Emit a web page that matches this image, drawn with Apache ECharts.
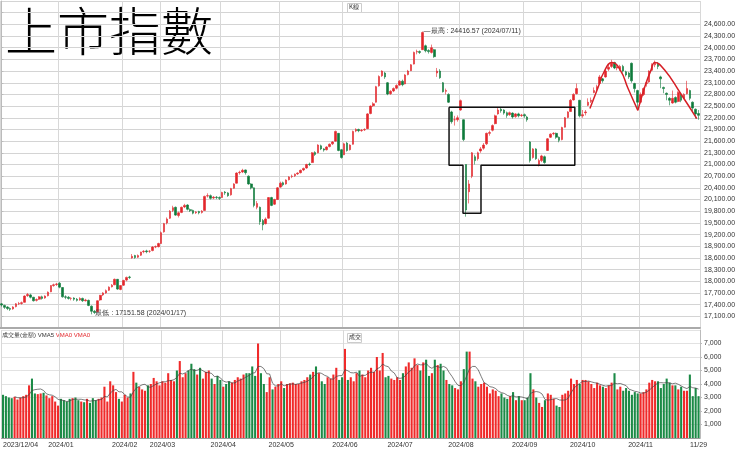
<!DOCTYPE html>
<html>
<head>
<meta charset="utf-8">
<script src="https://cdn.jsdelivr.net/npm/echarts@6/dist/echarts.min.js"></script>
<style>
html, body { margin: 0; padding: 0; background: #fff; }
#chart { width: 740px; height: 452px; }
</style>
</head>
<body>
<div id="chart"></div>
<script>
// 月份標籤與每月交易日數
var monthLabels = ['2023/12/04', '2024/01', '2024/02', '2024/03', '2024/04', '2024/05', '2024/06', '2024/07', '2024/08', '2024/09', '2024/10', '2024/11'];
var monthDays = [20, 22, 13, 21, 20, 22, 19, 21, 22, 20, 20, 21];
var lastLabel = '11/29';

// K線 [開, 收, 低, 高]
var candles = [
  // 2023/12
  [17420,17390,17350,17440],[17380,17330,17290,17400],[17340,17300,17260,17360],[17300,17280,17240,17330],[17290,17340,17270,17360],
  [17350,17420,17330,17440],[17420,17430,17390,17470],[17430,17450,17400,17480],[17460,17620,17450,17640],[17630,17660,17600,17700],
  [17650,17590,17560,17680],[17590,17500,17480,17600],[17510,17530,17480,17560],[17540,17600,17520,17620],[17600,17560,17530,17630],
  [17570,17620,17550,17640],[17630,17720,17610,17740],[17730,17890,17720,17900],[17890,17910,17860,17940],[17920,17930,17880,17960],
  // 2024/01
  [17950,17850,17820,17980],[17840,17600,17580,17850],[17600,17590,17540,17640],[17590,17560,17530,17620],[17560,17560,17510,17590],
  [17570,17540,17500,17590],[17540,17510,17480,17570],[17520,17560,17500,17590],[17560,17500,17470,17580],[17500,17520,17480,17550],
  [17510,17380,17360,17530],[17360,17230,17151.58,17380],[17230,17200,17160,17260],[17220,17500,17210,17510],[17520,17640,17500,17650],
  [17650,17700,17620,17720],[17700,17760,17680,17790],[17770,17850,17750,17870],[17860,17900,17840,17930],[17910,18050,17900,18070],
  [18050,17800,17780,18060],[17790,17890,17770,17900],
  // 2024/02
  [17900,18020,17880,18040],[18030,18100,18000,18120],[18110,18100,18060,18140],[18600,18640,18580,18700],[18660,18610,18580,18680],
  [18620,18660,18600,18690],[18670,18750,18650,18760],[18760,18770,18720,18800],[18780,18760,18720,18810],[18770,18770,18730,18800],
  [18790,18880,18770,18900],[18880,18890,18850,18920],[18890,18970,18870,18990],
  // 2024/03
  [18970,19250,18960,19280],[19270,19480,19250,19500],[19500,19600,19460,19640],[19620,19800,19600,19830],[19820,19890,19780,19940],
  [19900,19700,19680,19920],[19690,19760,19640,19790],[19770,19900,19750,19920],[19910,19950,19880,19990],[19960,19850,19820,19980],
  [19840,19820,19780,19870],[19820,19750,19720,19840],[19760,19780,19730,19800],[19790,19760,19720,19810],[19770,19800,19740,19830],
  [19820,20180,19810,20200],[20190,20200,20150,20260],[20200,20130,20100,20230],[20140,20160,20110,20190],[20160,20150,20110,20190],
  [20150,20130,20090,20180],
  // 2024/04
  [20150,20280,20140,20300],[20290,20270,20220,20320],[20270,20200,20170,20290],[20220,20380,20200,20400],[20390,20500,20380,20520],
  [20520,20780,20510,20800],[20790,20800,20740,20840],[20810,20850,20780,20890],[20860,20790,20740,20870],[20700,20500,20480,20720],
  [20500,20400,20360,20520],[20400,19950,19900,20410],[19900,20000,19850,20060],[19900,19530,19450,19920],[19560,19450,19310,19600],
  [19480,19600,19460,19640],[19620,20150,19610,20160],[20150,19950,19930,20170],[19980,20100,19960,20120],[20100,20400,20090,20420],
  // 2024/05
  [20420,20520,20400,20560],[20530,20480,20440,20560],[20500,20600,20480,20620],[20610,20680,20590,20700],[20690,20700,20650,20740],
  [20710,20750,20680,20770],[20760,20780,20730,20800],[20790,20850,20770,20870],[20860,20900,20830,20920],[20910,21000,20890,21020],
  [21010,21000,20960,21050],[21050,21300,21040,21320],[21310,21260,21220,21340],[21300,21500,21290,21520],[21480,21400,21370,21510],
  [21400,21370,21330,21420],[21380,21450,21360,21470],[21460,21520,21440,21540],[21530,21580,21500,21600],[21600,21850,21590,21870],
  [21800,21360,21340,21810],[21380,21180,21150,21400],
  // 2024/06
  [21250,21530,21240,21560],[21550,21360,21330,21580],[21380,21500,21360,21520],[21520,21850,21510,21870],[21860,21900,21830,21930],
  [21900,21870,21830,21920],[21870,21880,21840,21910],[21890,21900,21860,21930],[21920,22300,21910,22320],[22310,22500,22290,22520],
  [22510,22560,22480,22600],[22600,23000,22590,23020],[23020,23260,23000,23290],[23280,23400,23250,23420],[23350,23250,23200,23380],
  [23100,22810,22780,23120],[22820,22880,22790,22910],[22890,22950,22860,22980],[22960,23030,22930,23060],
  // 2024/07
  [23040,23140,23020,23170],[23140,23050,23010,23180],[23070,23300,23060,23320],[23310,23400,23290,23430],[23410,23560,23400,23580],
  [23580,23880,23570,23900],[23890,23900,23830,23950],[23900,23880,23840,23930],[23950,24390,23940,24416.57],[24050,23920,23880,24080],
  [23930,23900,23850,23960],[23880,24000,23850,24080],[23950,23770,23740,23970],[23350,23400,23250,23480],[23400,23230,23200,23450],
  [23100,22870,22850,23120],[22880,22900,22800,22950],[22800,22600,22580,22830],[22350,22100,22050,22380],[22150,22150,22000,22250],
  [22150,22200,22100,22260],
  // 2024/08
  [22400,22640,22380,22670],[22150,21640,21600,22160],[21000,19830,19660,21000],[20300,20500,20000,20600],[20700,21300,20650,21320],
  [21200,21100,21000,21250],[21150,21300,21100,21330],[21350,21400,21300,21450],[21420,21500,21380,21550],[21530,21800,21500,21820],
  [21800,21820,21740,21870],[21880,22000,21850,22030],[22050,22250,22030,22280],[22300,22400,22280,22450],[22420,22380,22330,22460],
  [22400,22320,22280,22420],[22330,22260,22200,22360],[22280,22330,22250,22360],[22320,22220,22180,22340],[22230,22300,22200,22320],
  [22300,22250,22210,22330],[22260,22270,22220,22300],
  // 2024/09
  [22280,22250,22200,22310],[22220,22150,22100,22250],[21580,21100,21050,21600],[21180,21400,21150,21420],[21400,21150,21120,21420],
  [21000,21100,20950,21150],[21100,21220,21060,21250],[21200,21050,21020,21230],[21360,21660,21350,21680],[21700,21780,21680,21800],
  [21790,21800,21750,21830],[21800,21700,21660,21820],[21700,21620,21570,21720],[21640,21950,21620,21970],[21960,22200,21950,22220],
  [22210,22350,22190,22370],[22360,22650,22350,22680],[22660,22800,22640,22830],[22820,22950,22800,23080],[22650,22250,22210,22660],
  // 2024/10
  [22250,22280,22200,22400],[22330,22350,22260,22400],[22520,22600,22500,22700],[22620,22650,22580,22720],[22850,22900,22830,22980],
  [22930,23000,22880,23050],[23080,23250,23060,23300],[23200,23150,23100,23220],[23250,23400,23230,23430],[23450,23500,23400,23560],
  [23520,23600,23480,23690],[23620,23480,23450,23640],[23480,23500,23420,23550],[23450,23520,23400,23560],[23520,23400,23360,23560],
  [23380,23300,23260,23410],[23350,23250,23200,23380],[23600,23150,23100,23620],[23080,22950,22850,23100],[22900,22600,22440,22920],
  // 2024/11
  [22600,22800,22570,22850],[22800,22950,22760,22980],[23080,23100,23000,23150],[23120,23400,23100,23420],[23420,23550,23400,23600],
  [23560,23600,23500,23670],[23600,23520,23450,23630],[23250,23200,22960,23280],[22980,22950,22830,23000],[22830,22800,22650,22850],
  [22700,22650,22520,22730],[22580,22700,22560,22900],[22720,22600,22570,22750],[22620,22850,22600,22880],[22800,22650,22600,22820],
  [22700,22800,22680,22830],[22820,22950,22800,23150],[22900,22700,22650,22920],[22600,22450,22340,22620],[22420,22300,22180,22440],
  [22310,22262.5,22150,22400]
];

// 成交量(億)
var volumes = [
  3200,3100,3000,2950,3050,2850,3000,3100,3200,3900,4400,3300,3250,3300,3350,3150,2950,3100,2700,2400,
  2900,2800,2700,2900,2950,3000,2800,2700,2650,2900,2600,2950,2800,2900,3000,3800,2700,4200,3900,3400,2900,2700,
  3200,3000,3300,4900,4100,3800,3600,3500,3900,4000,4450,4200,3900,
  4200,4100,4800,4300,4200,5000,5700,4500,4800,5000,5500,5100,4700,5200,4400,4900,5000,4400,4000,4600,4300,
  3800,4000,4200,4100,4300,4500,4400,4700,4800,4800,5300,4600,7000,4800,4000,3400,4500,3600,3800,4000,
  4200,3700,4000,4050,4100,4000,4000,4200,4300,4500,4700,4900,5300,4800,4200,4000,4500,4400,4700,5200,4300,4500,
  6600,4300,4500,4200,4800,5000,4700,4500,5000,5200,4900,6000,5000,6300,4500,4600,4400,4300,4500,
  4300,4800,5300,5600,5200,5900,5400,5000,5600,5800,4600,4800,5800,5400,5500,5000,4300,4000,3900,3700,3600,
  4200,5100,6400,6400,4400,4200,3800,4000,4100,3800,3300,3600,3500,3100,3300,3000,2900,3100,3400,2800,3100,2800,
  2800,3000,4800,3600,3000,2600,2300,2800,3300,3200,2900,2400,2300,3200,3300,3500,4400,4000,4300,4000,
  4300,4300,4200,4000,3700,4100,3900,3800,3700,3900,4100,4800,3600,3800,3500,3700,3500,3200,3400,3300,
  3300,3400,3600,4100,4300,4200,4200,3700,4000,4400,4100,3900,3900,3600,3800,3500,3500,4700,3100,3700,3100
];

// 手繪標註 (索引, 指數)
var boxPath = [[154.1,22470],[197.4,22470],[197.4,20980],[165.1,20980],[165.1,19745],[158.9,19745],[158.9,20980],[154.1,20980],[154.1,22470]];
var arcLeft = [[202.6,22440],[205.3,22960],[207.4,23370],[210.2,23620],[213.1,23420],[215.7,22960],[219.1,22390]];
var arcRight = [[219.1,22390],[221.5,23000],[223.6,23420],[225.0,23620],[228.4,23420],[233.6,22850],[239.4,22180]];

var highIdx = 145, lowIdx = 31;
var lastClose = 22262.5;

var categories = [], labelOf = [], monthStart = {};
(function () {
  var n = 0;
  for (var m = 0; m < monthDays.length; m++) {
    for (var d = 0; d < monthDays[m]; d++) {
      categories.push('c' + n);
      labelOf.push(d === 0 ? monthLabels[m] : '');
      if (d === 0) monthStart[n] = true;
      n++;
    }
  }
  labelOf[n - 1] = lastLabel;
})();
var N = categories.length;

var volData = volumes.map(function (v, i) {
  var c = candles[i];
  return { value: v, itemStyle: { color: c[1] >= c[0] ? '#f02a2a' : '#1b8a46' } };
});
var ma5 = volumes.map(function (v, i) {
  if (i < 4) return '-';
  var s = 0;
  for (var k = i - 4; k <= i; k++) s += volumes[k];
  return s / 5;
});

function fmt(v) {
  return v.toLocaleString('en-US', { minimumFractionDigits: 2, maximumFractionDigits: 2 });
}

var chart = echarts.init(document.getElementById('chart'));
var font = 'Liberation Sans, Arial, sans-serif';
var splitX = {
  show: true,
  interval: function (i) { return !!monthStart[i]; },
  lineStyle: { color: '#d8d8d8' }
};

chart.setOption({
  animation: false,
  backgroundColor: '#fff',
  textStyle: { fontFamily: font },
  grid: [
    { left: 0, right: 40, top: 1, height: 327 },
    { left: 0, right: 40, top: 330, height: 108 }
  ],
  xAxis: [
    { type: 'category', gridIndex: 0, data: categories, axisLabel: { show: false }, axisTick: { show: false },
      axisLine: { lineStyle: { color: '#aaa', width: 2 } }, splitLine: splitX },
    { type: 'category', gridIndex: 1, data: categories, axisTick: { show: false },
      axisLine: { lineStyle: { color: '#999' } }, splitLine: splitX,
      axisLabel: {
        interval: function (i) { return !!monthStart[i] || i === N - 1; },
        formatter: function (v, i) { return labelOf[i]; },
        fontSize: 7, color: '#333', margin: 4, alignMinLabel: 'left', alignMaxLabel: 'center'
      } },
    { type: 'value', gridIndex: 0, min: -0.5, max: N - 0.5, show: false }
  ],
  yAxis: [
    { type: 'value', gridIndex: 0, position: 'right', min: 16800, max: 25200, interval: 300,
      axisLine: { show: true, lineStyle: { color: '#bbb' } }, axisTick: { show: true, length: 2, lineStyle: { color: '#bbb' } },
      splitLine: { lineStyle: { color: '#d4d4d4' } },
      axisLabel: { fontSize: 7, color: '#333', margin: 4, showMinLabel: false, showMaxLabel: false,
        formatter: function (v) { return v > 24600 ? '' : fmt(v); } } },
    { type: 'value', gridIndex: 1, position: 'right', min: 0, max: 8000, interval: 1000,
      axisLine: { show: true, lineStyle: { color: '#bbb' } }, axisTick: { show: true, length: 2, lineStyle: { color: '#bbb' } },
      splitLine: { lineStyle: { color: '#e2e2e2' } },
      axisLabel: { fontSize: 7, color: '#333', margin: 4, showMinLabel: false, showMaxLabel: false,
        formatter: function (v) { return v.toLocaleString('en-US'); } } }
  ],
  series: [
    {
      type: 'candlestick', xAxisIndex: 0, yAxisIndex: 0, data: candles, barWidth: '72%',
      itemStyle: { color: '#e3262b', color0: '#0e7b3b', borderColor: '#e3262b', borderColor0: '#0e7b3b', borderWidth: 0.6 },
      markPoint: {
        symbol: 'circle', symbolSize: 0,
        label: { show: true, position: 'right', distance: 1, fontSize: 7, color: '#333' },
        data: [
          { coord: [highIdx, 24416.57], label: { formatter: '—最高 : 24416.57 (2024/07/11)' } },
          { coord: [lowIdx, 17151.58], label: { formatter: '最低 : 17151.58 (2024/01/17)', offset: [3, -1] } }
        ]
      },
      markLine: {
        symbol: 'none', silent: true,
        lineStyle: { opacity: 0 },
        label: { position: 'end', distance: 0, formatter: fmt(lastClose), backgroundColor: '#e3262b',
          color: '#fff', fontSize: 8, fontWeight: 'bold', padding: [2, 1] },
        data: [{ yAxis: lastClose }]
      }
    },
    { type: 'line', xAxisIndex: 2, yAxisIndex: 0, data: boxPath, symbol: 'none', lineStyle: { color: '#111', width: 1.5 } },
    { type: 'line', xAxisIndex: 2, yAxisIndex: 0, data: arcLeft, symbol: 'none', smooth: 0.5, lineStyle: { color: '#d61f26', width: 1.5 } },
    { type: 'line', xAxisIndex: 2, yAxisIndex: 0, data: arcRight, symbol: 'none', smooth: 0.5, lineStyle: { color: '#d61f26', width: 1.5 } },
    { type: 'bar', xAxisIndex: 1, yAxisIndex: 1, data: volData, barWidth: '72%' },
    { type: 'line', xAxisIndex: 1, yAxisIndex: 1, data: ma5, symbol: 'none', lineStyle: { color: '#444', width: 0.7 } }
  ],
  graphic: [
    { type: 'text', left: 5, top: 5, style: { text: '上市指數', fontSize: 52, fontFamily: 'Noto Sans CJK TC', fontWeight: 300, fill: '#000' } },
    { type: 'rect', left: 347, top: 3, shape: { width: 14, height: 9 }, style: { fill: '#fff', stroke: '#ccc' } },
    { type: 'text', left: 349, top: 4, style: { text: 'K線', fontSize: 6, fill: '#333', fontFamily: 'Noto Sans CJK TC' } },
    { type: 'rect', left: 347, top: 333, shape: { width: 14, height: 9 }, style: { fill: '#fff', stroke: '#ccc' } },
    { type: 'text', left: 349, top: 334, style: { text: '成交', fontSize: 6, fill: '#333', fontFamily: 'Noto Sans CJK TC' } },
    { type: 'text', left: 2, top: 332, style: { rich: { a: { fontSize: 6, fill: '#333' }, b: { fontSize: 6, fill: '#e3262b' } },
      text: '{a|成交量(金額) VMA5 }{b|VMA0 VMA0}', fontFamily: 'Noto Sans CJK TC' } }
  ]
});
</script>
</body>
</html>
